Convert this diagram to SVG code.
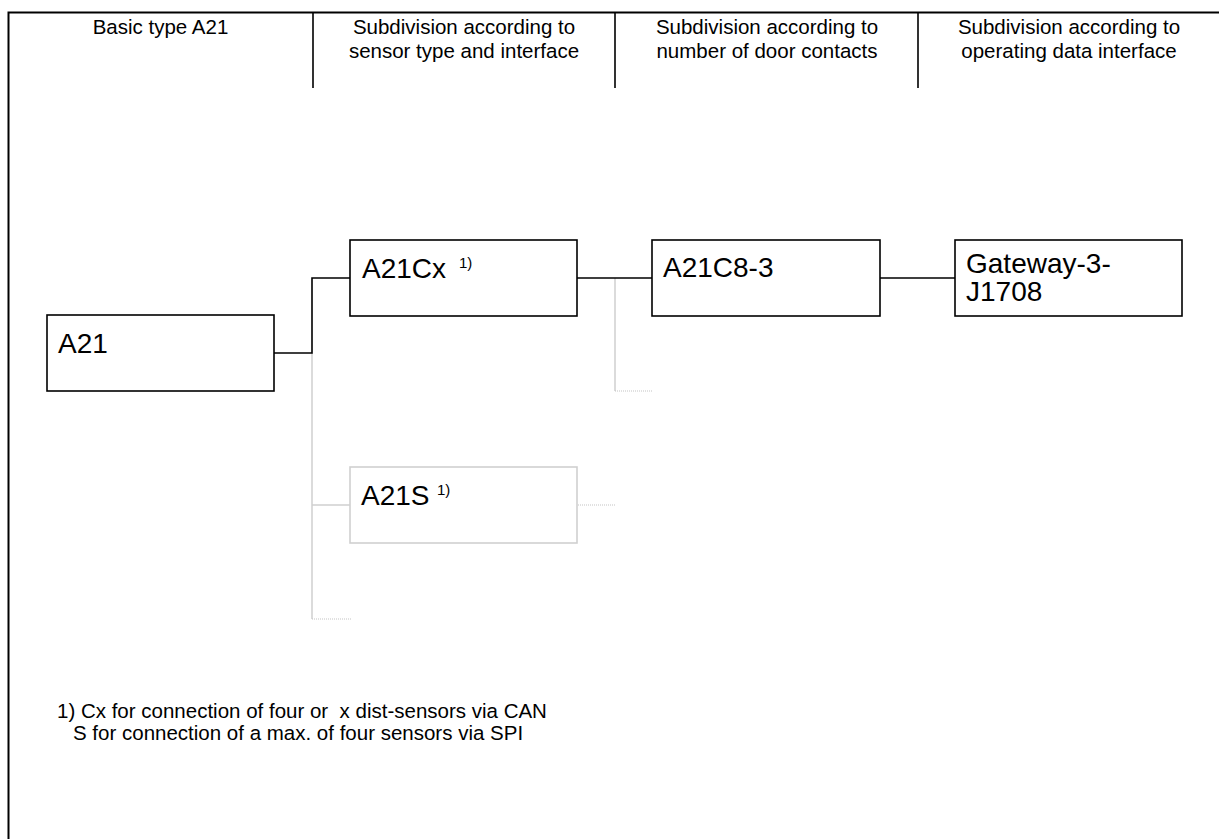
<svg xmlns="http://www.w3.org/2000/svg" width="1219" height="839" viewBox="0 0 1219 839">
<style>
text{font-family:"Liberation Sans",Arial,sans-serif;fill:#000}
.hd{font-size:20.5px;text-anchor:middle}
.lbl{font-size:28px}
.sup{font-size:15px}
.fn{font-size:20.5px;white-space:pre}
.box{fill:#fff;stroke:#000;stroke-width:1.6}
.gbox{fill:#fff;stroke:#d0d0d0;stroke-width:1.6}
.blk{fill:none;stroke:#000;stroke-width:1.6}
.gry{fill:none;stroke:#d0d0d0;stroke-width:1.5}
.dot{fill:none;stroke:#c4c4c4;stroke-width:1.2;stroke-dasharray:1 1}
.frame{fill:none;stroke:#000;stroke-width:2}
</style>
<rect width="1219" height="839" fill="#fff"/>
<g id="frame">
<path class="frame" d="M8.5,839 V12.5 H1219"/>
<path class="blk" d="M313,12 V88 M615,12 V88 M918,12 V88"/>
</g>
<g id="header">
<text class="hd" x="160.5" y="33.5">Basic type A21</text>
<text class="hd" x="464" y="33.5">Subdivision according to</text>
<text class="hd" x="464" y="57.5">sensor type and interface</text>
<text class="hd" x="767" y="33.5">Subdivision according to</text>
<text class="hd" x="767" y="57.5">number of door contacts</text>
<text class="hd" x="1069" y="33.5">Subdivision according to</text>
<text class="hd" x="1069" y="57.5">operating data interface</text>
</g>
<g id="connectors">
<path class="gry" d="M312,353 V619 M312,505 H350 M615,278 V391"/>
<path class="dot" d="M312,619 H351 M615,391 H653 M578,505 H615"/>
<path class="blk" d="M274,353 H312 V278 H350 M577,278 H652 M880,278 H955"/>
</g>
<g id="node-a21">
<rect class="box" x="47" y="315" width="227" height="76"/>
<text class="lbl" x="58" y="353">A21</text>
</g>
<g id="node-a21cx">
<rect class="box" x="350" y="240" width="227" height="76"/>
<text class="lbl" x="362" y="278">A21Cx</text>
<text class="sup" x="459" y="268">1)</text>
</g>
<g id="node-a21s">
<rect class="gbox" x="350" y="467" width="227" height="76"/>
<text class="lbl" x="361" y="505">A21S</text>
<text class="sup" x="437" y="495">1)</text>
</g>
<g id="node-a21c8-3">
<rect class="box" x="652" y="240" width="228" height="76"/>
<text class="lbl" x="663" y="277">A21C8-3</text>
</g>
<g id="node-gateway">
<rect class="box" x="955" y="240" width="227" height="76"/>
<text class="lbl" x="966" y="273">Gateway-3-</text>
<text class="lbl" x="966" y="301">J1708</text>
</g>
<g id="footnote">
<text class="fn" x="57" y="718">1) Cx for connection of four or  x dist-sensors via CAN</text>
<text class="fn" x="73" y="740">S for connection of a max. of four sensors via SPI</text>
</g>
</svg>
